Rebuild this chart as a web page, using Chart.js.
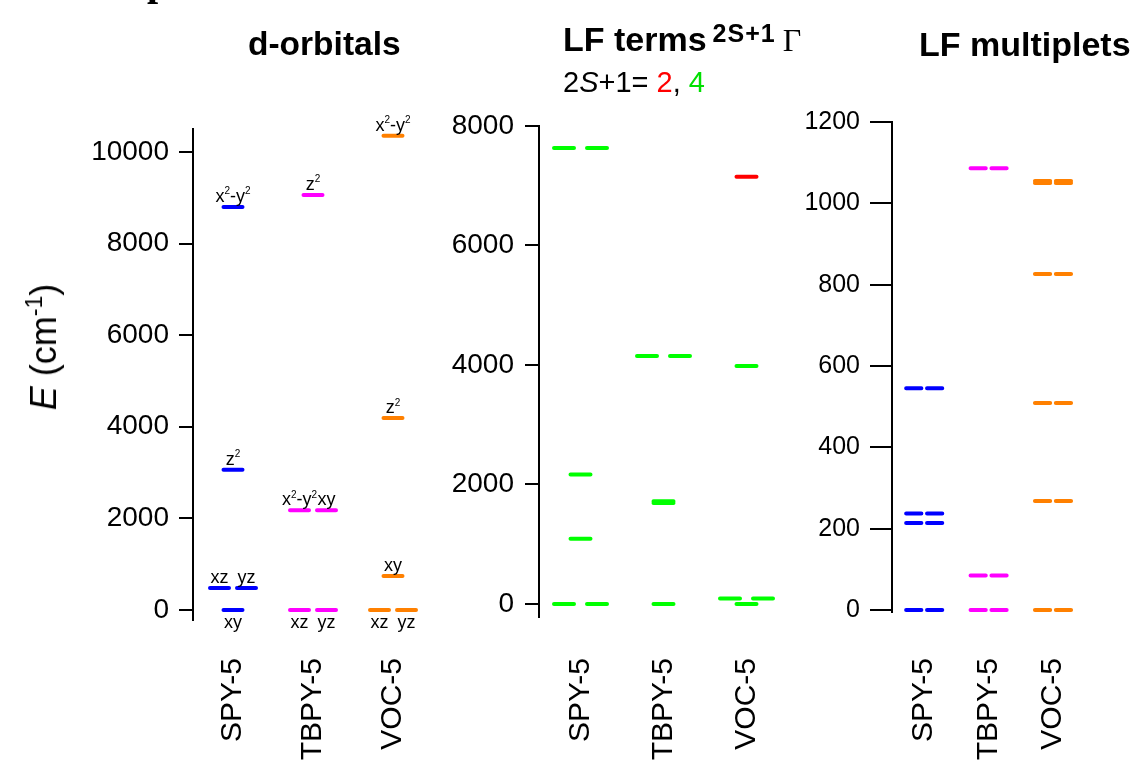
<!DOCTYPE html>
<html><head><meta charset="utf-8">
<script src="https://cdn.jsdelivr.net/npm/chart.js@4.4.0/dist/chart.umd.min.js"></script>
<style>
html,body{margin:0;padding:0;background:#fff;}
#wrap{position:relative;width:1135px;height:761px;overflow:hidden;font-family:'Liberation Sans',Arial,sans-serif;color:#000;}
canvas{position:absolute;left:0;top:0;}
.t{position:absolute;white-space:nowrap;line-height:1;}
</style></head><body>
<div id="wrap">
<canvas id="c1" width="1135" height="761"></canvas>
<canvas id="c2" width="1135" height="761"></canvas>
<canvas id="c3" width="1135" height="761"></canvas>
<div class="t" style="left:147px;top:-38px;font-family:'Liberation Serif',serif;font-weight:bold;font-size:40px;">p</div>
<div class="t" style="left:248px;top:27px;font-weight:bold;font-size:33.5px;">d-orbitals</div>
<div class="t" style="left:563px;top:22px;font-weight:bold;font-size:34px;">LF terms<span style="font-size:25px;position:relative;top:-9px;margin-left:6px;margin-right:7px;letter-spacing:1px;">2S+1</span><span style="font-family:'Liberation Serif',serif;font-weight:normal;font-size:32px;">&Gamma;</span></div>
<div class="t" style="left:563px;top:68px;font-size:29px;">2<i>S</i>+1= <span style="color:#ff0000">2</span>, <span style="color:#00e000">4</span></div>
<div class="t" style="left:919px;top:27px;font-weight:bold;font-size:34px;">LF multiplets</div>
<div class="t" style="left:44px;top:347px;font-size:36px;transform:translate(-50%,-50%) rotate(-90deg);"><i>E</i> (cm<span style="font-size:23px;position:relative;top:-14px;">-1</span>)</div>
</div>
<script>
// ---------------- data ----------------
const categories = ['SPY-5', 'TBPY-5', 'VOC-5'];

// d-orbital energies (cm-1) and names (^ marks a superscript)
const dSPY_E  = [8800, 3060, 480, 480, 0];
const dSPY_N  = ['x^2-y^2', 'z^2', 'xz', 'yz', 'xy'];
const dTBPY_E = [9060, 2180, 2180, 0, 0];
const dTBPY_N = ['z^2', 'x^2-y^2', 'xy', 'xz', 'yz'];
const dVOC_E  = [10350, 4190, 740, 0, 0];
const dVOC_N  = ['x^2-y^2', 'z^2', 'xy', 'xz', 'yz'];

// LF terms: energies (cm-1) and spin multiplicity 2S+1
const tSPY_E  = [7630, 7630, 2165, 1090, 0, 0];
const tSPY_M  = [4, 4, 4, 4, 4, 4];
const tTBPY_E = [4150, 4150, 1718, 1690, 0];
const tTBPY_M = [4, 4, 4, 4, 4];
const tVOC_E  = [7150, 3985, 90, 90, 0];
const tVOC_M  = [2, 4, 4, 4, 4];

// LF multiplets (Kramers doublets, each listed twice)
const mSPY_E  = [545, 545, 237, 237, 214, 214, 0, 0];
const mTBPY_E = [1086, 1086, 85, 85, 0, 0];
const mVOC_E  = [1055, 1055, 1050, 1050, 826, 826, 509, 509, 268, 268, 0, 0];

// tick labels
const yTicks1 = [0, 2000, 4000, 6000, 8000, 10000];
const yTicks2 = [0, 2000, 4000, 6000, 8000];
const yTicks3 = [0, 200, 400, 600, 800, 1000, 1200];

// ---------------- style ----------------
const COL = {blue:'#0000ff', magenta:'#ff00ff', orange:'#ff8000', green:'#00ff00', red:'#ff0000'};
const FONT = "'Liberation Sans', Arial, sans-serif";
const LABEL_TOP = 658;

// equal energies within a category are drawn side by side
function layoutLevels(energies, cat, ppu, halfPx, pairPx) {
  const out = [];
  const counts = {};
  energies.forEach(e => counts[e] = (counts[e] || 0) + 1);
  const seen = {};
  energies.forEach((e, i) => {
    const n = counts[e];
    const k = seen[e] = (seen[e] || 0);
    seen[e]++;
    let off = 0;
    if (n === 2) off = (k === 0 ? -pairPx : pairPx);
    const xc = cat + off / ppu;
    out.push({i, e, xc, x0: xc - halfPx / ppu, x1: xc + halfPx / ppu});
  });
  return out;
}
function segPoints(levels) {
  const pts = [];
  levels.forEach(l => { pts.push({x: l.x0, y: l.e}, {x: l.x1, y: l.e}, {x: l.x1, y: null}); });
  return pts;
}
function ds(pts, color) {
  return {data: pts, showLine: true, borderColor: color, backgroundColor: color, borderWidth: 4,
          borderCapStyle: 'round', pointRadius: 0, spanGaps: false, tension: 0};
}

function makeChart(id, g, datasets, ticks, opt, plugins) {
  const W = g.axisX - 1, H = 761 - g.bottom - 1;
  return new Chart(document.getElementById(id), {
    type: 'scatter',
    data: {datasets},
    plugins: plugins || [],
    options: {
      responsive: false, animation: false, events: [],
      layout: {padding: {left: g.axisX - W, right: 1135 - g.right, top: g.top, bottom: 761 - g.bottom - H}},
      plugins: {legend: {display: false}, tooltip: {enabled: false}, title: {display: false}},
      scales: {
        x: {
          type: 'linear', min: -0.5, max: g.xmax,
          afterFit(s) { s.height = H; },
          afterBuildTicks(s) { s.ticks = categories.map((c, i) => ({value: i})); },
          grid: {display: false, drawTicks: false},
          border: {display: false},
          ticks: {autoSkip: false, minRotation: 90, maxRotation: 90, padding: LABEL_TOP - g.bottom,
                  color: '#000', font: {family: FONT, size: 30},
                  callback: (v) => categories[v]}
        },
        y: {
          type: 'linear', min: g.ymin, max: g.ymax,
          afterFit(s) { s.width = W; },
          afterBuildTicks(s) { s.ticks = ticks.map(v => ({value: v})); },
          grid: {drawOnChartArea: false, drawTicks: true, tickLength: opt.tickLen, lineWidth: 2, color: '#000'},
          border: {display: true, width: 2, color: '#000'},
          ticks: {padding: opt.pad, color: '#000', font: {family: FONT, size: opt.fontSize},
                  callback: (v) => String(v)}
        }
      }
    }
  });
}

// draw "x^2-y^2" style text centred at (cx, baseline y)
function drawRich(ctx, txt, cx, y, size) {
  const parts = [];
  for (let i = 0; i < txt.length; i++) {
    if (txt[i] === '^') { parts.push({s: txt[i + 1], sup: true}); i++; }
    else parts.push({s: txt[i], sup: false});
  }
  const supSize = Math.round(size * 0.58);
  let w = 0;
  parts.forEach(p => { ctx.font = (p.sup ? supSize : size) + 'px ' + FONT; p.w = ctx.measureText(p.s).width; w += p.w; });
  let x = cx - w / 2;
  parts.forEach(p => {
    ctx.font = (p.sup ? supSize : size) + 'px ' + FONT;
    ctx.fillText(p.s, x, p.sup ? y - size * 0.42 : y);
    x += p.w;
  });
}

// ---------- panel 1: d-orbitals ----------
const g1 = {axisX: 193, right: 433, top: 129, bottom: 620, ymin: -218, ymax: 10500, xmax: 2.5};
const ppu1 = (g1.right - g1.axisX) / (g1.xmax + 0.5);
const d1 = [[dSPY_E, dSPY_N, COL.blue], [dTBPY_E, dTBPY_N, COL.magenta], [dVOC_E, dVOC_N, COL.orange]];
const d1Levels = d1.map((d, c) => layoutLevels(d[0], c, ppu1, 9.5, 13.5).map(l => Object.assign(l, {name: d[1][l.i]})));
const orbitalLabels = {
  id: 'orbitalLabels',
  afterDatasetsDraw(chart) {
    const ctx = chart.ctx, xs = chart.scales.x, ys = chart.scales.y;
    ctx.save();
    ctx.fillStyle = '#000';
    ctx.textAlign = 'left';
    ctx.textBaseline = 'alphabetic';
    d1Levels.forEach(lv => lv.forEach(l => {
      const px = xs.getPixelForValue(l.xc), py = ys.getPixelForValue(l.e);
      drawRich(ctx, l.name, px, l.e === 0 ? py + 18 : py - 5, 18);
    }));
    ctx.restore();
  }
};
makeChart('c1', g1, d1Levels.map((lv, c) => ds(segPoints(lv), d1[c][2])), yTicks1, {tickLen: 14, fontSize: 28, pad: 10}, [orbitalLabels]);

// ---------- panel 2: LF terms ----------
const g2 = {axisX: 539, right: 788, top: 126, bottom: 617, ymin: -218, ymax: 8000, xmax: 2.5};
const ppu2 = (g2.right - g2.axisX) / (g2.xmax + 0.5);
const t2 = [[tSPY_E, tSPY_M], [tTBPY_E, tTBPY_M], [tVOC_E, tVOC_M]];
const quartet = [], doublet = [];
t2.forEach((t, c) => {
  layoutLevels(t[0], c, ppu2, 10, 16.5).forEach(l => {
    (t[1][l.i] === 2 ? doublet : quartet).push(l);
  });
});
makeChart('c2', g2, [ds(segPoints(quartet), COL.green), ds(segPoints(doublet), COL.red)], yTicks2, {tickLen: 14, fontSize: 28, pad: 11});

// ---------- panel 3: LF multiplets ----------
const g3 = {axisX: 892, right: 1135, top: 122, bottom: 612, ymin: -5, ymax: 1200, xmax: 2.463};
const ppu3 = (g3.right - g3.axisX) / (g3.xmax + 0.5);
const m3 = [[mSPY_E, COL.blue], [mTBPY_E, COL.magenta], [mVOC_E, COL.orange]];
makeChart('c3', g3, m3.map((m, c) => ds(segPoints(layoutLevels(m[0], c, ppu3, 9.7, 13.3)), m[1])), yTicks3, {tickLen: 22, fontSize: 25, pad: 10});
</script>
</body></html>
